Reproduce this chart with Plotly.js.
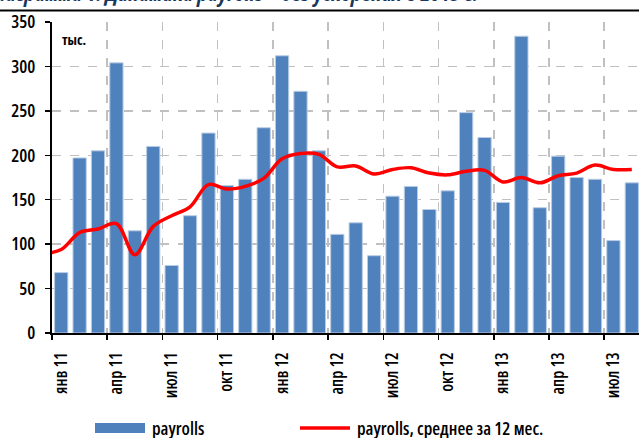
<!DOCTYPE html>
<html>
<head>
<meta charset="utf-8">
<script src="https://cdn.plot.ly/plotly-3.0.1.min.js"></script>
<style>
html,body{margin:0;padding:0;background:#fff;}
#chart{width:639px;height:438px;}
svg text{font-stretch:75% !important;}
</style>
</head>
<body>
<div id="chart"></div>
<script>
// monthly payrolls, Jan 2011 .. Aug 2013 (thousands)
const payrolls = [68,197,205,304,115,210,76,132,225,166,173,231,312,272,205,111,124,87,154,165,139,160,248,220,147,334,141,199,175,173,104,169];
// 12-month average, Dec 2010 .. Aug 2013 (first point lies left of the visible plot)
const avg12 = [89,94,113,117,123,88,120,132,142,167,162,165,174,196,202,201,187,188,179,184,186,180,178,182,183,170,175,169,177,180,189,184,184];
const tickLabels = ['янв 11','апр 11','июл 11','окт 11','янв 12','апр 12','июл 12','окт 12','янв 13','апр 13','июл 13'];
const seriesNames = ['payrolls','payrolls, среднее за 12 мес.'];
const titleText = 'Диаграмма 1. Динамика payrolls – без ускорения в 2013 г.';
const unitText = 'тыс.';

const idx = payrolls.map((_, i) => i);
const avgIdx = avg12.map((_, i) => i - 1);
const labelPos = tickLabels.map((_, i) => i * 3);
const boundaryPos = tickLabels.map((_, i) => i * 3 - 0.5);

const FONT = '"Open Sans", sans-serif';
const W = 639, L = 52, T = 22, B = 105, PW = W - L, PH = 438 - T - B;
const px = x => (x - L) / PW;
const py = y => (T + PH - y) / PH;

const traces = [
  {type:'bar', x: idx, y: payrolls, name: seriesNames[0], xaxis:'x', yaxis:'y',
   marker:{color:'#4f81bd', line:{color:'#b9cde5', width:1}}, width:0.72, showlegend:false},
  {type:'scatter', mode:'lines', x: avgIdx, y: avg12, name: seriesNames[1], xaxis:'x', yaxis:'y',
   line:{color:'#ff0000', width:3.5, shape:'spline', smoothing:1}, showlegend:false},
  {type:'scatter', mode:'none', x: labelPos, y: labelPos.map(() => 0), xaxis:'x2', yaxis:'y', showlegend:false, hoverinfo:'skip'}
];

const layout = {
  width: 639, height: 438,
  margin: {l: L, r: 0, t: T, b: B, pad: 0},
  paper_bgcolor: '#ffffff', plot_bgcolor: '#ffffff',
  font: {family: FONT, size: 16, color: '#000', weight: 600},
  showlegend: false,
  bargap: 0,
  xaxis: {
    range: [-0.5, 31.39], tickmode:'array', tickvals: boundaryPos, ticktext: boundaryPos.map(() => ''),
    showgrid: true, gridcolor:'#c0c0c0', griddash:'dash', gridwidth:1.5,
    showline: true, linecolor:'#000', linewidth:2, ticks:'outside', ticklen:5, tickcolor:'#000', tickwidth:1.5,
    zeroline:false, fixedrange:true
  },
  xaxis2: {
    overlaying:'x', side:'bottom', range: [-0.5, 31.39], tickmode:'array', tickvals: labelPos, ticktext: tickLabels,
    tickangle: -90, showgrid:false, showline:false, ticks:'', zeroline:false, ticklabelstandoff: 15,
    tickfont:{family: FONT, size: 17, color:'#000', weight: 600}, fixedrange:true
  },
  yaxis: {
    range: [0, 350], tickmode:'array', tickvals:[0,50,100,150,200,250,300,350],
    showgrid:true, gridcolor:'#c0c0c0', griddash:'dash', gridwidth:1.5,
    showline:true, linecolor:'#000', linewidth:2, ticks:'outside', ticklen:5, tickcolor:'#000', tickwidth:1.5,
    ticklabelstandoff: 6,
    zeroline:false, tickfont:{family: FONT, size: 18, color:'#000', weight: 600}, fixedrange:true
  },
  shapes: [
    {type:'line', xref:'paper', yref:'paper', x0: px(0), x1: px(639), y0: py(10.5), y1: py(10.5), line:{color:'#000', width:2}},
    {type:'rect', xref:'paper', yref:'paper', x0: px(95), x1: px(145), y0: py(433), y1: py(423), fillcolor:'#4f81bd', line:{width:0}},
    {type:'line', xref:'paper', yref:'paper', x0: px(300), x1: px(350), y0: py(428), y1: py(428), line:{color:'#ff0000', width:3.5}}
  ],
  annotations: [
    {xref:'paper', yref:'paper', x: px(-22), y: py(10.5), xanchor:'left', yanchor:'bottom', showarrow:false,
     text: '<b><i>' + titleText + '</i></b>', font:{family: FONT, size: 23, color:'#17375e'}},
    {xref:'paper', yref:'paper', x: px(57), y: py(40), xanchor:'left', yanchor:'middle', showarrow:false, borderpad: 4,
     text: unitText, font:{family: FONT, size: 14, color:'#000', weight: 700}},
    {xref:'paper', yref:'paper', x: px(147), y: py(428), xanchor:'left', yanchor:'middle', showarrow:false, borderpad: 4,
     text: seriesNames[0], font:{family: FONT, size: 18, color:'#000', weight: 600}},
    {xref:'paper', yref:'paper', x: px(352), y: py(428), xanchor:'left', yanchor:'middle', showarrow:false, borderpad: 4,
     text: seriesNames[1], font:{family: FONT, size: 18, color:'#000', weight: 600}}
  ]
};

Plotly.newPlot('chart', traces, layout, {displayModeBar:false, staticPlot:true});
</script>
</body>
</html>
